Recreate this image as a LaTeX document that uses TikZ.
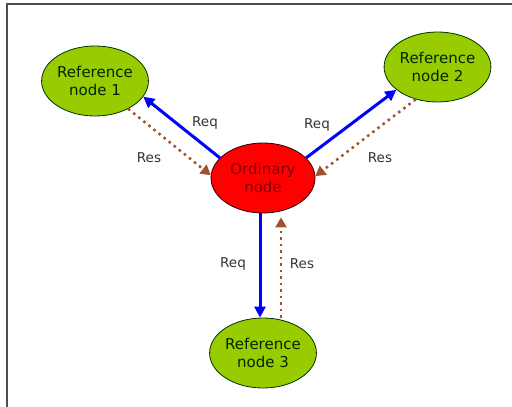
\documentclass[tikz,border=0pt]{standalone}
\usepackage{fontspec}
\setmainfont{DejaVu Sans}
\usetikzlibrary{shapes.geometric,arrows.meta}
\definecolor{refgreen}{HTML}{99CC00}
\definecolor{ordred}{HTML}{FF0000}
\definecolor{reqblue}{HTML}{0000FF}
\definecolor{resbrown}{HTML}{A0522D}
\definecolor{txtgray}{HTML}{333333}
\tikzset{
  refnode/.style={ellipse, draw=black!80!green, line width=0.8pt, fill=refgreen,
    minimum width=104pt, minimum height=70pt, inner sep=0pt, align=center,
    font=\fontsize{15}{18}\selectfont, text=black!85!green},
  ordnode/.style={ellipse, draw=black!80!red, line width=0.8pt, fill=ordred,
    minimum width=104pt, minimum height=70pt, inner sep=0pt, align=center,
    font=\fontsize{15}{18}\selectfont, text=red!50!black},
  req/.style={draw=reqblue, line width=3pt, -{Triangle[length=11pt,width=11pt]}},
  res/.style={draw=resbrown, line width=2.5pt, dash pattern=on 2.5pt off 4pt,
    -{Triangle[length=10pt,width=11pt]}},
  lbl/.style={font=\fontsize{13.5}{16}\selectfont, text=txtgray}
}
\begin{document}
\begin{tikzpicture}[x=1pt,y=-1pt]
\useasboundingbox (0,0) rectangle (512,407);
\fill[white] (0,0) rectangle (512,407);
\draw[line width=1.5pt, draw=black!70] (7,407) -- (7,4) -- (512,4);

\node[refnode] (r1) at (95,81) {Reference\\node 1};
\node[refnode] (r2) at (437.5,67) {Reference\\node 2};
\node[ordnode] (ord) at (263,178) {Ordinary\\node};
\node[refnode] (r3) at (263,353) {Reference\\node 3};

\draw[req] (ord.155) -- (r1.-18);
\draw[res] (r1.-40) -- (ord.177);
\draw[req] (ord.25) -- (r2.-151);
\draw[res] (r2.-124) -- (ord.2);
\draw[req] ([xshift=-3pt]ord.south) -- ([xshift=-3pt]r3.north);
\draw[res] ([xshift=18pt]r3.north) -- ([xshift=18pt,yshift=-4pt]ord.south);

\node[lbl] (lq1) at (205,123) {Req};
\node[lbl] (ls1) at (149,158) {Res};
\node[lbl] (lq2) at (317,125) {Req};
\node[lbl] (ls2) at (380,158) {Res};
\node[lbl] (lq3) at (233,264) {Req};
\node[lbl] (ls3) at (302,264) {Res};
\end{tikzpicture}
\end{document}
